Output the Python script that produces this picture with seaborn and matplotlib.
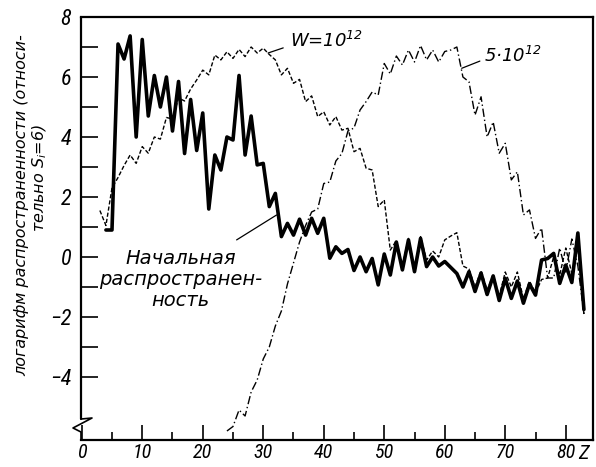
import matplotlib
matplotlib.use("Agg")
import matplotlib.pyplot as plt
import seaborn as sns
from matplotlib import font_manager

# Z of the element and log abundance (relative to Si = 6)
z_initial = list(range(4, 84))
initial = [0.9, 0.9, 7.1, 6.6, 7.37, 4.0, 7.25, 4.7, 6.05, 5.0,
           6.0, 4.2, 5.85, 3.45, 5.25, 3.55, 4.8, 1.6, 3.4, 2.9,
           4.0, 3.9, 6.05, 3.4, 4.7, 3.07, 3.12, 1.68, 2.12, 0.68,
           1.12, 0.73, 1.26, 0.73, 1.29, 0.79, 1.29, -0.04, 0.34, 0.12,
           0.25, -0.45, 0.0, -0.49, -0.05, -0.93, 0.1, -0.6, 0.5, -0.43,
           0.57, -0.49, 0.62, -0.32, 0.0, -0.3, -0.15, -0.35, -0.55, -1.0,
           -0.49, -1.15, -0.54, -1.25, -0.63, -1.45, -0.71, -1.38, -0.8, -1.54,
           -0.9, -1.27, -0.1, -0.05, 0.12, -0.88, -0.27, -0.85, 0.8, -1.75]

z_w1 = list(range(3, 84))
w1 = [1.55, 1.05, 2.3, 2.65, 3.05, 3.4, 3.12, 3.68, 3.46, 4.0,
      3.93, 4.65, 4.6, 5.3, 5.2, 5.6, 5.9, 6.23, 6.07, 6.73,
      6.57, 6.84, 6.62, 6.92, 6.68, 7.0, 6.8, 6.96, 6.75, 6.57,
      6.07, 6.29, 5.79, 5.92, 5.18, 5.37, 4.68, 4.84, 4.4, 4.68,
      4.23, 4.29, 3.51, 3.62, 2.96, 2.9, 1.68, 1.9, 0.23, 0.55,
      -0.3, 0.62, -0.35, 0.68, -0.1, 0.2, 0.0, 0.57, 0.7, 0.81,
      -0.3, -0.4, -1.0, -0.45, -1.1, -0.6, -1.3, -0.5, -1.0, -0.5,
      -1.4, -0.8, -1.2, -0.75, -0.7, 0.0, -0.6, 0.3, -0.55, 0.3,
      -1.9]

z_w5 = list(range(24, 84))
w5 = [-5.8, -5.65, -5.1, -5.3, -4.5, -4.1, -3.4, -3.0, -2.3, -1.8,
      -0.9, -0.2, 0.5, 1.05, 1.5, 1.6, 2.45, 2.5, 3.2, 3.45,
      4.2, 4.3, 4.9, 5.18, 5.5, 5.4, 6.45, 6.1, 6.7, 6.4,
      6.9, 6.5, 7.05, 6.57, 6.9, 6.5, 6.85, 6.9, 7.0, 6.0,
      5.84, 4.73, 5.34, 4.0, 4.5, 3.46, 3.79, 2.57, 2.84, 1.4,
      1.57, 0.62, 0.96, -0.7, -0.7, 0.3, -0.5, 0.6, -0.3, -1.9]

x_ticks = [0, 10, 20, 30, 40, 50, 60, 70, 80]
y_ticks = [-4, -2, 0, 2, 4, 6, 8]

sns.set_theme(style="white")
plt.rcParams["font.family"] = ["DejaVu Sans"]
plt.rcParams["font.style"] = "italic"
plt.rcParams["text.color"] = "black"
plt.rcParams["mathtext.fontset"] = "custom"
plt.rcParams["mathtext.rm"] = "DejaVu Sans:italic"
plt.rcParams["mathtext.it"] = "DejaVu Sans:italic"

# narrow face for the digits if one is around
names = {f.name for f in font_manager.fontManager.ttflist}
tick_font = "DejaVu Sans"
for cand in ["Liberation Sans Narrow", "Roboto Condensed"]:
    if cand in names:
        tick_font = cand
        break

fig = plt.figure(figsize=(5.96, 4.67), dpi=100)
ax = fig.add_axes([81 / 596, 1 - 440 / 467, 512 / 596, 423 / 467])

sns.lineplot(x=z_initial, y=initial, color="black", lw=2.6, ax=ax)
sns.lineplot(x=z_w1, y=w1, color="black", lw=1.0, linestyle=(0, (3, 1.5)), ax=ax)
sns.lineplot(x=z_w5, y=w5, color="black", lw=1.0, linestyle=(0, (6, 2, 1, 2)), ax=ax)

ax.set_xlim(-0.12, 84.5)
ax.set_ylim(-6.1, 8)

ax.set_xticks(x_ticks)
ax.set_xticks(range(5, 85, 10), minor=True)
ax.set_yticks(y_ticks)
ax.set_yticks([-3, -1, 1, 3, 5, 7], minor=True)
ax.set_xticklabels([str(v) for v in x_ticks], fontsize=14.5, family=tick_font, style="italic")
ax.set_yticklabels([str(v).replace("-", "\u2212") for v in y_ticks], fontsize=16,
                   family=tick_font, style="italic")
ax.tick_params(axis="both", which="both", direction="in", color="black",
               bottom=True, left=True, width=1.2, labelcolor="black")
ax.tick_params(axis="x", which="major", length=11, pad=2)
ax.tick_params(axis="x", which="minor", length=6)
ax.tick_params(axis="y", which="both", length=12, pad=7)
ax.set_xlabel("")
ax.set_ylabel("")

for side in ["top", "right", "bottom"]:
    ax.spines[side].set_color("black")
    ax.spines[side].set_linewidth(1.6)
ax.spines["left"].set_visible(False)
# left axis with the break mark near the bottom
ax.plot([0, 0], [1, 0.0496], transform=ax.transAxes, color="black", lw=1.6, clip_on=False)
ax.plot([0, 0.0215, -0.0156, 0, 0], [0.0496, 0.052, 0.0284, 0.0189, 0],
        transform=ax.transAxes, color="black", lw=1.2, clip_on=False)

ax.text(83.0, -6.55, "Z", ha="center", va="center", fontsize=15, family=tick_font,
        style="italic", clip_on=False)

# labels on the curves
ax.text(16.3, -0.75, "Начальная\nраспространен-\nность", ha="center", va="center",
        fontsize=14, linespacing=1.1)
ax.annotate("", xy=(32.2, 1.4), xytext=(25.6, 0.57),
            arrowprops=dict(arrowstyle="-", lw=0.9, color="black", shrinkA=0, shrinkB=0))

ax.text(34.4, 7.2, "W=10$^{12}$", ha="left", va="center", fontsize=13)
ax.annotate("", xy=(30.8, 6.8), xytext=(33.3, 6.97),
            arrowprops=dict(arrowstyle="-", lw=0.9, color="black", shrinkA=0, shrinkB=0))

ax.text(66.5, 6.7, "5·10$^{12}$", ha="left", va="center", fontsize=13)
ax.annotate("", xy=(62.8, 6.29), xytext=(65.8, 6.53),
            arrowprops=dict(arrowstyle="-", lw=0.9, color="black", shrinkA=0, shrinkB=0))

fig.text(22 / 596, 1 - 205 / 467, "логарифм распространенности (относи-",
         rotation=90, ha="center", va="center", fontsize=11.5)
fig.text(40 / 596, 1 - 178 / 467, "тельно $S_i$=6)",
         rotation=90, ha="center", va="center", fontsize=11.5)

fig.savefig("out.png", dpi=100)
